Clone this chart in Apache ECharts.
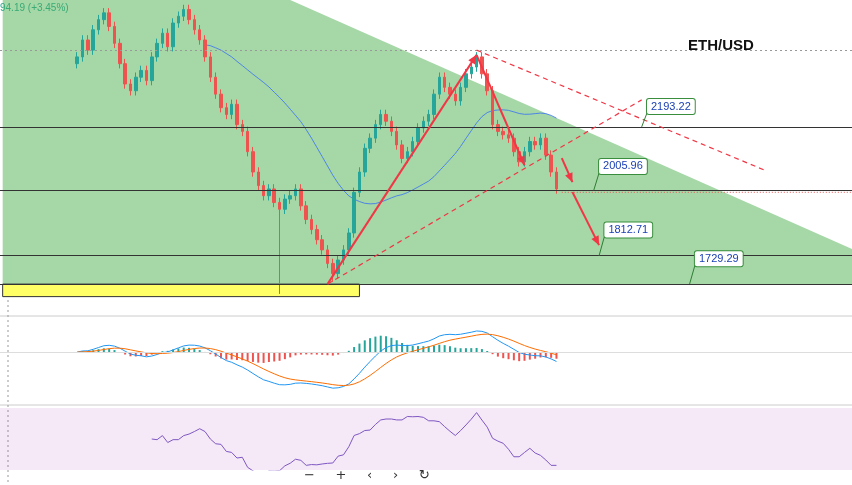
<!DOCTYPE html>
<html><head><meta charset="utf-8">
<script src="https://cdn.jsdelivr.net/npm/echarts@6/dist/echarts.min.js"></script>
<style>html,body{margin:0;padding:0;background:#fff}#c{width:852px;height:485px}</style>
</head><body><div id="c"></div>
<script>
const closes=[2400,2450,2420,2480,2510,2530,2490,2440,2380,2320,2300,2340,2360,2330,2400,2440,2470,2430,2500,2520,2540,2510,2480,2450,2400,2340,2290,2250,2230,2260,2200,2180,2120,2060,2020,1990,2010,1970,1950,1980,1990,2010,1960,1920,1890,1860,1830,1790,1760,1800,1830,1880,2000,2060,2130,2160,2200,2230,2210,2180,2140,2100,2120,2150,2190,2210,2230,2290,2340,2310,2290,2270,2310,2350,2370,2400,2350,2300,2200,2180,2170,2160,2120,2090,2120,2150,2140,2160,2110,2060,2010];
const lowSpikes={38:1700,48:1735};
const levels=[2193.22,2005.96,1812.71,1729.29];
const levelLabels=['2193.22','2005.96','1812.71','1729.29'];
const N=160, OFF=14;
const cats=Array.from({length:N},(_,i)=>String(i));
const candles=[];
for(let i=0;i<N;i++){candles.push('-');}
closes.forEach((c,i)=>{const o=i?closes[i-1]:c-20;const hi=Math.max(o,c)+14;const lo=lowSpikes[i]||Math.min(o,c)-14;candles[OFF+i]=[o,c,lo,hi];});
function sma(a,n){return a.map((v,i)=>{if(i<n-1)return null;let s=0;for(let k=i-n+1;k<=i;k++)s+=a[k];return s/n;});}
function ema(a,n){const k=2/(n+1);let e=a[0];return a.map(v=>(e=v*k+e*(1-k)));}
const ma=sma(closes,25);
const e12=ema(closes,12),e26=ema(closes,26);
const macd=e12.map((v,i)=>v-e26[i]);const sig=ema(macd,9);const hist=macd.map((v,i)=>v-sig[i]);
const rsi=closes.map((c,i)=>{if(i<14)return null;let g=0,l=0;for(let k=i-13;k<=i;k++){const d=closes[k]-closes[k-1];if(d>0)g+=d;else l-=d;}return l===0?90:100-100/(1+g/l);});
function pad(a){const r=Array(N).fill(null);a.forEach((v,i)=>r[OFF+i]=v);return r;}
const ann={
 tri:[[-0.5,2568],[54,2568],[159.5,1829],[159.5,1729],[-0.5,1729]],
 yellow:[[-0.5,1729],[67,1692]],
 solid:[[[60.5,1729],[88.7,2406]],[[88.7,2406],[97.5,2080]],[[104.7,2101],[106.9,2030]],[[106.5,2001],[111.8,1844]]],
 dashed:[[[61.1,1729],[119.7,2273]],[[88.7,2420],[142.6,2066]]],
 boxes:[[120.6,2255,119.5],[112.3,2078,111],[113,1890,111.5],[129.5,1805,128.5]]
};
const chart=echarts.init(document.getElementById('c'));
function arrowHead(p1,p2,col){const dx=p2[0]-p1[0],dy=p2[1]-p1[1],L=Math.hypot(dx,dy),ux=dx/L,uy=dy/L,s=9,w=4;
 return {type:'polygon',shape:{points:[p2,[p2[0]-ux*s-uy*w,p2[1]-uy*s+ux*w],[p2[0]-ux*s+uy*w,p2[1]-uy*s-ux*w]]},style:{fill:col}};}
const mainMarkLines=levels.map(v=>({yAxis:v,lineStyle:{color:'#333',width:1,type:'solid'}}));
mainMarkLines.push({yAxis:2420,lineStyle:{color:'#999',type:[2,3],width:1}});
const noAx={axisLabel:{show:false},splitLine:{show:false},axisLine:{show:false},axisTick:{show:false}};
chart.setOption({
 animation:false,
 grid:[{left:0,right:0,top:0,height:300},{left:0,right:0,top:322,height:78},{left:0,right:0,top:408,height:62}],
 xAxis:[0,1,2].map(g=>Object.assign({type:'category',data:cats,gridIndex:g},noAx)),
 yAxis:[
  Object.assign({gridIndex:0,min:1682,max:2568},noAx),
  Object.assign({gridIndex:1,min:-172,max:108},noAx),
  Object.assign({gridIndex:2,min:10,max:90},noAx)],
 series:[
  {type:'custom',xAxisIndex:0,yAxisIndex:0,data:[0],z:1,silent:true,renderItem:(p,api)=>({type:'group',children:[
    {type:'polygon',shape:{points:ann.tri.map(q=>api.coord(q))},style:{fill:'rgba(76,175,80,0.5)'}},
    (()=>{const a=api.coord(ann.yellow[0]),b=api.coord(ann.yellow[1]);return {type:'rect',shape:{x:a[0],y:a[1],width:b[0]-a[0],height:b[1]-a[1]},style:{fill:'#ffff66',stroke:'#333',lineWidth:1}};})()
  ]})},
  {type:'candlestick',data:candles,xAxisIndex:0,yAxisIndex:0,barWidth:3,z:3,
   itemStyle:{color:'#26a69a',color0:'#ef5350',borderColor:'#26a69a',borderColor0:'#ef5350'},
   markLine:{symbol:'none',silent:true,label:{show:false},data:mainMarkLines}},
  {type:'line',data:pad(ma),xAxisIndex:0,yAxisIndex:0,showSymbol:false,lineStyle:{color:'#2962ff',width:1,opacity:0.7},z:2},
  {type:'custom',xAxisIndex:0,yAxisIndex:0,data:[0],z:5,silent:true,renderItem:(p,api)=>{const ch=[];
    ann.dashed.forEach(s=>{const a=api.coord(s[0]),b=api.coord(s[1]);ch.push({type:'line',shape:{x1:a[0],y1:a[1],x2:b[0],y2:b[1]},style:{stroke:'#f23645',lineWidth:1.2,lineDash:[5,4]}});});
    ann.solid.forEach(s=>{const a=api.coord(s[0]),b=api.coord(s[1]);ch.push({type:'line',shape:{x1:a[0],y1:a[1],x2:b[0],y2:b[1]},style:{stroke:'#f23645',lineWidth:2}});ch.push(arrowHead(a,b,'#f23645'));});
    const cp=api.coord([104.5,2005.96]);ch.push({type:'line',shape:{x1:cp[0],y1:cp[1]+2,x2:852,y2:cp[1]+2},style:{stroke:'#ef5350',lineWidth:1,lineDash:[1,2]}});
    ann.boxes.forEach((b,i)=>{const c=api.coord([b[0],b[1]]);const lv=api.coord([b[2],levels[i]]);
      ch.push({type:'line',shape:{x1:lv[0],y1:lv[1],x2:c[0],y2:c[1]+7},style:{stroke:'#2e7d32',lineWidth:1}});
      ch.push({type:'text',x:c[0],y:c[1]-7,style:{text:levelLabels[i],fill:'#1a3fb5',font:'11px "Liberation Sans", Arial',backgroundColor:'#fff',borderColor:'#388e3c',borderWidth:1,padding:[2,4],borderRadius:2}});});
    return {type:'group',children:ch};}},
  {type:'bar',data:pad(hist),xAxisIndex:1,yAxisIndex:1,barWidth:2,itemStyle:{color:p=>p.value>=0?'#26a69a':'#ef5350'},
   markLine:{symbol:'none',silent:true,label:{show:false},data:[{yAxis:0,lineStyle:{color:'#ddd',type:'solid'}}]}},
  {type:'line',data:pad(macd),xAxisIndex:1,yAxisIndex:1,showSymbol:false,lineStyle:{color:'#2196f3',width:1}},
  {type:'line',data:pad(sig),xAxisIndex:1,yAxisIndex:1,showSymbol:false,lineStyle:{color:'#ff6d00',width:1}},
  {type:'line',data:pad(rsi),xAxisIndex:2,yAxisIndex:2,showSymbol:false,lineStyle:{color:'#7e57c2',width:1},
   markArea:{silent:true,itemStyle:{color:'rgba(156,39,176,0.1)'},data:[[{yAxis:10},{yAxis:90}]]}}
 ],
 graphic:[
  {type:'text',left:688,top:38,style:{text:'ETH/USD',font:'bold 15px "Liberation Sans", Arial',fill:'#111'}},
  {type:'text',left:0,top:3,style:{text:'94.19 (+3.45%)',font:'10px "Liberation Sans", Arial',fill:'#26a69a'}},
  {type:'line',shape:{x1:0,y1:316,x2:852,y2:316},style:{stroke:'#ccc'}},
  {type:'line',shape:{x1:0,y1:405,x2:852,y2:405},style:{stroke:'#ccc'}},
  {type:'line',shape:{x1:8,y1:300,x2:8,y2:485},style:{stroke:'#999',lineDash:[2,3]}},
  {type:'text',left:304,top:469,style:{text:'−     +     ‹     ›     ↻',font:'13px "DejaVu Sans"',fill:'#333'}}
 ]
});
</script></body></html>
